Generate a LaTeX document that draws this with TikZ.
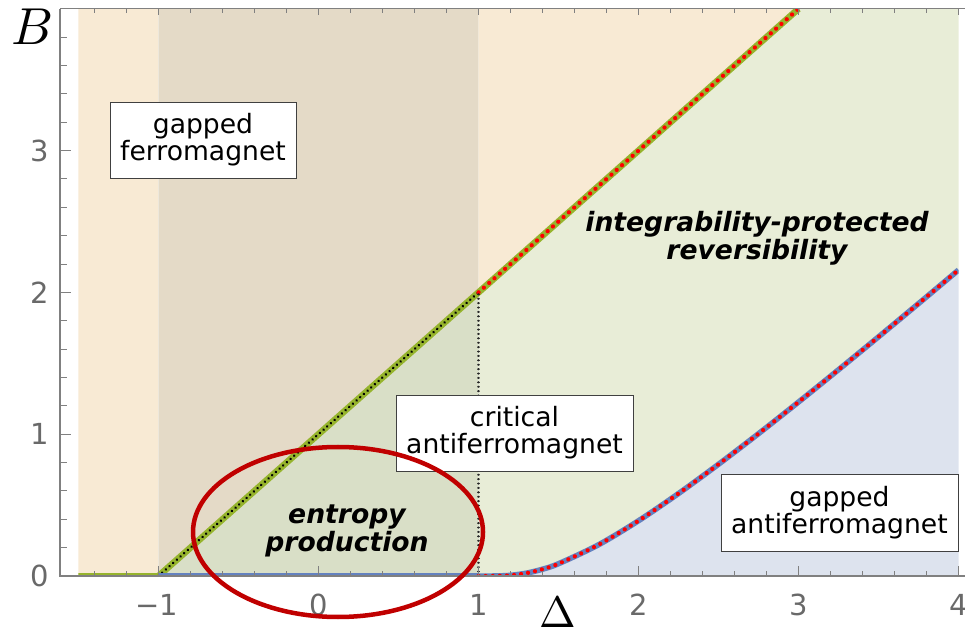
\documentclass[tikz,border=0pt]{standalone}
\usepackage{graphicx}
\usepackage{fontspec}
\setmainfont{DejaVu Sans}[BoldFont={DejaVu Sans Bold},ItalicFont={DejaVu Sans Oblique},BoldItalicFont={DejaVu Sans Bold Oblique}]
\definecolor{peach}{RGB}{248,234,212}
\definecolor{tanc}{RGB}{228,218,199}
\definecolor{triang}{RGB}{217,223,199}
\definecolor{lgreen}{RGB}{232,237,215}
\definecolor{lblue}{RGB}{221,227,238}
\definecolor{gline}{RGB}{150,180,45}
\definecolor{bline}{RGB}{100,130,192}
\definecolor{axisgray}{RGB}{128,128,128}
\definecolor{ticktext}{RGB}{105,105,105}
\definecolor{ellred}{RGB}{192,0,0}
\begin{document}
\begin{tikzpicture}[x=160pt,y=141.8pt,
  lbl/.style={font=\fontsize{26.6}{27}\selectfont, align=center, text=black},
  boxlbl/.style={lbl, draw=black!75, line width=0.9pt, fill=white, inner sep=0pt},
  boldlbl/.style={align=center, text=black, font=\fontsize{26.6}{28}\selectfont\bfseries\itshape},
  ticklbl/.style={font=\fontsize{29}{29}\selectfont, text=ticktext, inner sep=0pt},
  axisline/.style={draw=axisgray, line width=1.4pt},
  tickline/.style={draw=axisgray, line width=1pt},
  greenline/.style={draw=gline, line width=6.5pt},
  blueline/.style={draw=bline, line width=5.5pt},
  blackdots/.style={draw=black, line width=2.7pt, line cap=round, dash pattern=on 0.1pt off 4.8pt},
  reddots/.style={draw=red, line width=4.2pt, line cap=round, dash pattern=on 0.1pt off 7pt},
  vdots/.style={draw=black!85, line width=2.2pt, line cap=round, dash pattern=on 0.1pt off 4.3pt},
  ellstyle/.style={draw=ellred, line width=4.5pt}
]
\useasboundingbox (-1.990625,-0.387870) rectangle (4.040625,4.062059);
% region fills
\begin{scope}
\clip (-1.5,0) rectangle (4,4);
\fill[peach] (-1.5,0) rectangle (-1,4);
\fill[tanc] (-1,0) -- (1,2) -- (1,4) -- (-1,4) -- cycle;
\fill[peach] (1,2) -- (3,4) -- (1,4) -- cycle;
\fill[triang] (-1,0) -- (1,2) -- (1,0) -- cycle;
\fill[lgreen] (1,2) -- (1,0) -- plot[smooth] coordinates {(1,0) (1.1,0.0002) (1.2,0.0048) (1.3,0.0203) (1.4,0.0479) (1.5,0.0866) (1.75,0.2201) (2,0.3896) (2.25,0.5817) (2.5,0.7879) (2.75,1.0037) (3,1.2267) (3.25,1.4547) (3.5,1.6865) (3.75,1.9210) (4,2.1580)} -- (4,4) -- (3,4) -- cycle;
\fill[lblue] (1,0) -- plot[smooth] coordinates {(1,0) (1.1,0.0002) (1.2,0.0048) (1.3,0.0203) (1.4,0.0479) (1.5,0.0866) (1.75,0.2201) (2,0.3896) (2.25,0.5817) (2.5,0.7879) (2.75,1.0037) (3,1.2267) (3.25,1.4547) (3.5,1.6865) (3.75,1.9210) (4,2.1580)} -- (4,0) -- cycle;
% phase boundaries
\draw[greenline] (-1.5,0) -- (-1,0);
\draw[greenline] (-1,0) -- (3,4);
\draw[blackdots] (-1,0) -- (1,2);
\draw[reddots] (1,2) -- (3,4);
\draw[blueline] (-1,0) -- (1,0);
\draw[blackdots] (-1,0) -- (1,0);
\draw[blueline] plot[smooth] coordinates {(1,0) (1.1,0.0002) (1.2,0.0048) (1.3,0.0203) (1.4,0.0479) (1.5,0.0866) (1.75,0.2201) (2,0.3896) (2.25,0.5817) (2.5,0.7879) (2.75,1.0037) (3,1.2267) (3.25,1.4547) (3.5,1.6865) (3.75,1.9210) (4,2.1580)};
\draw[reddots] plot[smooth] coordinates {(1,0) (1.1,0.0002) (1.2,0.0048) (1.3,0.0203) (1.4,0.0479) (1.5,0.0866) (1.75,0.2201) (2,0.3896) (2.25,0.5817) (2.5,0.7879) (2.75,1.0037) (3,1.2267) (3.25,1.4547) (3.5,1.6865) (3.75,1.9210) (4,2.1580)};
\draw[vdots] (1,0) -- (1,2);
\end{scope}
% frame
\draw[axisline] (-1.6156,4) -- (-1.6156,0) -- (4.05,0);
\draw[axisline] (-1.6156,4) -- (4.05,4);
\foreach \k in {1,...,19} {
  \pgfmathsetmacro\yy{\k/5}
  \pgfmathsetmacro\tl{ifthenelse(mod(\k,5)==0,11,7)}
  \draw[tickline] (-1.6156,\yy) -- ++(\tl pt,0);
}
\foreach \k in {-7,...,20} {
  \pgfmathsetmacro\xx{\k/5}
  \pgfmathsetmacro\tl{ifthenelse(mod(\k,5)==0,10,5)}
  \pgfmathsetmacro\tt{ifthenelse(mod(\k,5)==0,6,4)}
  \draw[tickline] (\xx,0) -- ++(0,\tl pt);
  \draw[tickline] (\xx,4) -- ++(0,-\tt pt);
}
% tick labels
\foreach \v in {0,1,2,3} {
  \node[ticklbl, anchor=east] (yl\v) at (-1.684,\v) {\v};
}
\node[ticklbl] (xlm1) at (-1.01,-0.2045) {−1};
\foreach \v in {0,1,2,3,4} {
  \node[ticklbl] (xl\v) at (\v,-0.2045) {\v};
}
% axis titles
\node[inner sep=0pt] (blab) at (-1.7875,3.8717) {\scalebox{5.2}{$B$}};
\node[inner sep=0pt] (dlab) at (1.494,-0.258) {\scalebox{4.4}{$\Delta$}};
% labels
\node[boxlbl, minimum width=186pt, minimum height=76pt] (gf) at (-0.7219,3.0748) {gapped\\ferromagnet};
\node[boxlbl, minimum width=237pt, minimum height=76pt] (caf) at (1.225,1.0085) {critical\\antiferromagnet};
\node[boxlbl, minimum width=237pt, minimum height=77pt] (gaf) at (3.256,0.4478) {gapped\\antiferromagnet};
\node[boldlbl] (ipr) at (2.7406,2.3836) {integrability-protected\\reversibility};
\node[boldlbl] (ep) at (0.178,0.317) {entropy\\production};
% highlight ellipse
\draw[ellstyle] (0.1219,0.3103) ellipse [x radius=145pt, y radius=85pt];
\end{tikzpicture}
\end{document}
